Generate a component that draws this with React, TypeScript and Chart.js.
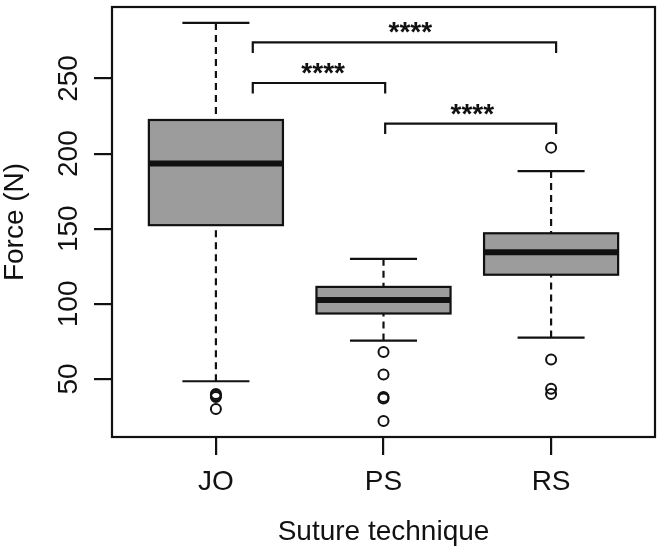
import { useEffect, useRef } from 'react';
import { Chart, registerables } from 'chart.js';

Chart.register(...registerables);

// Five-number summaries per suture technique (Force in N)
const categories = ['JO', 'PS', 'RS'];
const whiskerLow = [48.5, 75.6, 77.6];
const q1 = [152.4, 93.6, 119.4];
const median = [193.4, 102.6, 134.4];
const q3 = [222.4, 111.3, 147];
const whiskerHigh = [287, 130, 188.4];
const outliers = [
  [40, 39, 38, 30],
  [68, 53, 38, 37, 22],
  [204, 63, 43.5, 40],
];
const yTicks = [50, 100, 150, 200, 250];

// Significance brackets (positions on the group axis, height in N)
const bracketFrom = [1.22, 1.22, 2.01];
const bracketTo = [3.03, 2.01, 3.03];
const bracketY = [274, 247, 220];
const bracketLabelX = [2.16, 1.64, 2.53];
const bracketLabel = ['****', '****', '****'];

const FONT_FAMILY = "'Liberation Sans', Arial, Helvetica, sans-serif";
const INK = '#111111';
const BOX_FILL = '#9c9c9c';
const BOX_HALF = 0.4;
const CAP_HALF = 0.2;
const LEG = 7;

// R-style axis limits: data range widened by 4% on each side
const allValues = [...whiskerLow, ...whiskerHigh, ...outliers.flat()];
const yLo = Math.min(...allValues);
const yHi = Math.max(...allValues);
const yPad = (yHi - yLo) * 0.04;
const xPad = categories.length * 0.04;

const points = outliers.flatMap((vals, i) => vals.map((v) => ({ x: i + 1, y: v })));

const boxPlugin = {
  id: 'boxes',
  beforeDatasetsDraw(chart: any) {
    const { ctx, scales } = chart;
    const x = scales.x;
    const y = scales.y;
    ctx.save();
    ctx.strokeStyle = INK;
    categories.forEach((_, i) => {
      const pos = i + 1;
      const cx = x.getPixelForValue(pos);
      const left = x.getPixelForValue(pos - BOX_HALF);
      const right = x.getPixelForValue(pos + BOX_HALF);
      const capL = x.getPixelForValue(pos - CAP_HALF);
      const capR = x.getPixelForValue(pos + CAP_HALF);
      const yLow = y.getPixelForValue(whiskerLow[i]);
      const yQ1 = y.getPixelForValue(q1[i]);
      const yMed = y.getPixelForValue(median[i]);
      const yQ3 = y.getPixelForValue(q3[i]);
      const yHigh = y.getPixelForValue(whiskerHigh[i]);

      // dashed whiskers
      ctx.lineWidth = 2.2;
      ctx.lineCap = 'butt';
      ctx.setLineDash([7, 5]);
      ctx.beginPath();
      ctx.moveTo(cx, yHigh);
      ctx.lineTo(cx, yQ3);
      ctx.moveTo(cx, yLow);
      ctx.lineTo(cx, yQ1);
      ctx.stroke();
      ctx.setLineDash([]);

      // staples
      ctx.beginPath();
      ctx.moveTo(capL, yHigh);
      ctx.lineTo(capR, yHigh);
      ctx.moveTo(capL, yLow);
      ctx.lineTo(capR, yLow);
      ctx.stroke();

      // box
      ctx.fillStyle = BOX_FILL;
      ctx.fillRect(left, yQ3, right - left, yQ1 - yQ3);
      ctx.strokeRect(left, yQ3, right - left, yQ1 - yQ3);

      // median
      ctx.lineWidth = 6;
      ctx.beginPath();
      ctx.moveTo(left, yMed);
      ctx.lineTo(right, yMed);
      ctx.stroke();
    });
    ctx.restore();
  },
  afterDatasetsDraw(chart: any) {
    const { ctx, scales } = chart;
    const x = scales.x;
    const y = scales.y;
    ctx.save();
    ctx.strokeStyle = INK;
    ctx.fillStyle = INK;
    ctx.lineWidth = 2.2;
    ctx.lineCap = 'butt';
    ctx.lineJoin = 'miter';
    ctx.font = `bold 28px ${FONT_FAMILY}`;
    ctx.textAlign = 'center';
    ctx.textBaseline = 'alphabetic';
    bracketY.forEach((h, i) => {
      const x0 = x.getPixelForValue(bracketFrom[i]);
      const x1 = x.getPixelForValue(bracketTo[i]);
      const yTop = y.getPixelForValue(h);
      const yLeg = y.getPixelForValue(h - LEG);
      ctx.beginPath();
      ctx.moveTo(x0, yLeg);
      ctx.lineTo(x0, yTop);
      ctx.lineTo(x1, yTop);
      ctx.lineTo(x1, yLeg);
      ctx.stroke();
      ctx.fillText(bracketLabel[i], x.getPixelForValue(bracketLabelX[i]), yTop - 1);
    });
    ctx.restore();
  },
  afterDraw(chart: any) {
    const { ctx, chartArea } = chart;
    ctx.save();
    ctx.strokeStyle = INK;
    ctx.lineWidth = 2.2;
    ctx.strokeRect(chartArea.left, chartArea.top, chartArea.right - chartArea.left, chartArea.bottom - chartArea.top);
    ctx.restore();
  },
};

export default function App() {
  const canvasRef = useRef<HTMLCanvasElement | null>(null);

  useEffect(() => {
    const canvas = canvasRef.current;
    if (!canvas) return;
    const font = { family: FONT_FAMILY, size: 28 };
    const chart = new Chart(canvas, {
      type: 'scatter',
      data: {
        datasets: [
          {
            data: points,
            pointStyle: 'circle',
            pointRadius: 5,
            pointBorderWidth: 2,
            pointBorderColor: INK,
            pointBackgroundColor: 'rgba(255,255,255,0)',
          },
        ],
      },
      options: {
        responsive: false,
        animation: false,
        devicePixelRatio: 1,
        layout: { padding: { left: 0, right: 2, top: 3, bottom: 0 } },
        plugins: { legend: { display: false }, tooltip: { enabled: false } },
        scales: {
          x: {
            type: 'linear',
            min: 0.5 - xPad,
            max: categories.length + 0.5 + xPad,
            afterBuildTicks: (s: any) => {
              s.ticks = categories.map((_, i) => ({ value: i + 1 }));
            },
            afterFit: (s: any) => {
              s.height = 114;
              s.paddingLeft = 0;
              s.paddingRight = 0;
            },
            ticks: {
              autoSkip: false,
              maxRotation: 0,
              minRotation: 0,
              padding: 10,
              color: INK,
              font,
              callback: (v: any) => categories[Math.round(Number(v)) - 1] ?? '',
            },
            grid: { drawOnChartArea: false, drawTicks: true, tickLength: 18, lineWidth: 2.2, color: INK },
            border: { display: false },
            title: {
              display: true,
              text: 'Suture technique',
              color: INK,
              font: { ...font, lineHeight: 1.2 },
              padding: { top: 0, bottom: 2 },
            },
          },
          y: {
            type: 'linear',
            min: yLo - yPad,
            max: yHi + yPad,
            afterBuildTicks: (s: any) => {
              s.ticks = yTicks.map((v) => ({ value: v }));
            },
            afterFit: (s: any) => {
              s.width = 112;
              s.paddingTop = 0;
              s.paddingBottom = 0;
            },
            ticks: {
              minRotation: 90,
              maxRotation: 90,
              crossAlign: 'center',
              padding: 1,
              color: INK,
              font,
            },
            grid: { drawOnChartArea: false, drawTicks: true, tickLength: 18, lineWidth: 2.2, color: INK },
            border: { display: false },
            title: {
              display: true,
              text: 'Force (N)',
              color: INK,
              font: { ...font, lineHeight: 1.1 },
              padding: { top: 0, bottom: 0 },
            },
          },
        },
      },
      plugins: [boxPlugin],
    } as any);
    return () => chart.destroy();
  }, []);

  return (
    <div style={{ position: 'fixed', left: 0, top: 0, width: 662, height: 551, background: '#ffffff' }}>
      <canvas ref={canvasRef} width={662} height={551} style={{ display: 'block', width: 662, height: 551 }} />
    </div>
  );
}
